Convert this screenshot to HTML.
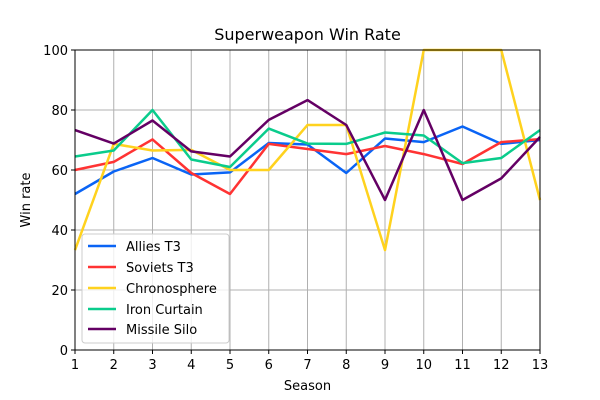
<!DOCTYPE html>
<html><head><style>body{margin:0;background:#fff}svg{display:block}</style></head><body>
<svg width="600" height="400" xmlns="http://www.w3.org/2000/svg" font-family="DejaVu Sans, sans-serif">
<rect width="600" height="400" fill="#fff"/>
<g stroke="#b0b0b0" stroke-width="1">
<line x1="75" y1="50" x2="75" y2="350"/><line x1="113.75" y1="50" x2="113.75" y2="350"/><line x1="152.5" y1="50" x2="152.5" y2="350"/><line x1="191.25" y1="50" x2="191.25" y2="350"/><line x1="230" y1="50" x2="230" y2="350"/><line x1="268.75" y1="50" x2="268.75" y2="350"/><line x1="307.5" y1="50" x2="307.5" y2="350"/><line x1="346.25" y1="50" x2="346.25" y2="350"/><line x1="385" y1="50" x2="385" y2="350"/><line x1="423.75" y1="50" x2="423.75" y2="350"/><line x1="462.5" y1="50" x2="462.5" y2="350"/><line x1="501.25" y1="50" x2="501.25" y2="350"/>
<line x1="75" y1="50" x2="540" y2="50"/><line x1="75" y1="110" x2="540" y2="110"/><line x1="75" y1="170" x2="540" y2="170"/><line x1="75" y1="230" x2="540" y2="230"/><line x1="75" y1="290" x2="540" y2="290"/>
</g>
<g fill="none" stroke-width="2.5" stroke-linejoin="round">
<polyline stroke="#0a64f5" points="75,194 113.75,171.5 152.5,158 191.25,174.5 230,172.4 268.75,143 307.5,144.5 346.25,173 385,138.5 423.75,142.1 462.5,126.5 501.25,143.9 540,140"/>
<polyline stroke="#ff3333" points="75,170 113.75,161.9 152.5,139.4 191.25,173 230,194 268.75,143.9 307.5,149 346.25,154.1 385,146 423.75,154.1 462.5,164 501.25,142.1 540,139.1"/>
<polyline stroke="#ffd21e" points="75,250.1 113.75,143.9 152.5,150.5 191.25,149.9 230,170 268.75,170 307.5,125 346.25,125 385,250.1 423.75,50 462.5,50 501.25,50 540,200"/>
<polyline stroke="#0acc8c" points="75,156.5 113.75,150.5 152.5,110 191.25,159.5 230,167 268.75,128.6 307.5,143.6 346.25,143.9 385,132.5 423.75,135.5 462.5,163.1 501.25,158 540,130.1"/>
<polyline stroke="#640064" points="75,130.1 113.75,143.6 152.5,120.5 191.25,151.4 230,156.5 268.75,119.9 307.5,100.1 346.25,125 385,200 423.75,110 462.5,200 501.25,178.4 540,137"/>
</g>
<rect x="75" y="50" width="465" height="300" fill="none" stroke="#000" stroke-width="1"/>
<g stroke="#000"><line x1="75" y1="350" x2="75" y2="354"/><line x1="113.75" y1="350" x2="113.75" y2="354"/><line x1="152.5" y1="350" x2="152.5" y2="354"/><line x1="191.25" y1="350" x2="191.25" y2="354"/><line x1="230" y1="350" x2="230" y2="354"/><line x1="268.75" y1="350" x2="268.75" y2="354"/><line x1="307.5" y1="350" x2="307.5" y2="354"/><line x1="346.25" y1="350" x2="346.25" y2="354"/><line x1="385" y1="350" x2="385" y2="354"/><line x1="423.75" y1="350" x2="423.75" y2="354"/><line x1="462.5" y1="350" x2="462.5" y2="354"/><line x1="501.25" y1="350" x2="501.25" y2="354"/><line x1="540" y1="350" x2="540" y2="354"/>
<line x1="71" y1="50" x2="75" y2="50"/><line x1="71" y1="110" x2="75" y2="110"/><line x1="71" y1="170" x2="75" y2="170"/><line x1="71" y1="230" x2="75" y2="230"/><line x1="71" y1="290" x2="75" y2="290"/><line x1="71" y1="350" x2="75" y2="350"/></g>
<g font-size="13" text-anchor="middle" fill="#000">
<text x="75" y="369">1</text><text x="113.75" y="369">2</text><text x="152.5" y="369">3</text><text x="191.25" y="369">4</text><text x="230" y="369">5</text><text x="268.75" y="369">6</text><text x="307.5" y="369">7</text><text x="346.25" y="369">8</text><text x="385" y="369">9</text><text x="423.75" y="369">10</text><text x="462.5" y="369">11</text><text x="501.25" y="369">12</text><text x="540" y="369">13</text>
<text x="307.5" y="390">Season</text>
<text x="307.5" y="40" font-size="16">Superweapon Win Rate</text>
<text transform="translate(30,200) rotate(-90)">Win rate</text>
</g>
<g font-size="13" text-anchor="end"><text x="68" y="55">100</text><text x="68" y="115">80</text><text x="68" y="175">60</text><text x="68" y="235">40</text><text x="68" y="295">20</text><text x="68" y="355">0</text></g>
<rect x="82" y="234" width="147" height="109" rx="3" fill="#fff" fill-opacity="0.8" stroke="#ccc"/>
<g stroke-width="2.5"><line x1="88" y1="246" x2="116" y2="246" stroke="#0a64f5"/><line x1="88" y1="267" x2="116" y2="267" stroke="#ff3333"/><line x1="88" y1="288" x2="116" y2="288" stroke="#ffd21e"/><line x1="88" y1="309" x2="116" y2="309" stroke="#0acc8c"/><line x1="88" y1="329" x2="116" y2="329" stroke="#640064"/></g>
<g font-size="13"><text x="126" y="251">Allies T3</text><text x="126" y="272">Soviets T3</text><text x="126" y="293">Chronosphere</text><text x="126" y="314">Iron Curtain</text><text x="126" y="334">Missile Silo</text></g>
</svg>
</body></html>
